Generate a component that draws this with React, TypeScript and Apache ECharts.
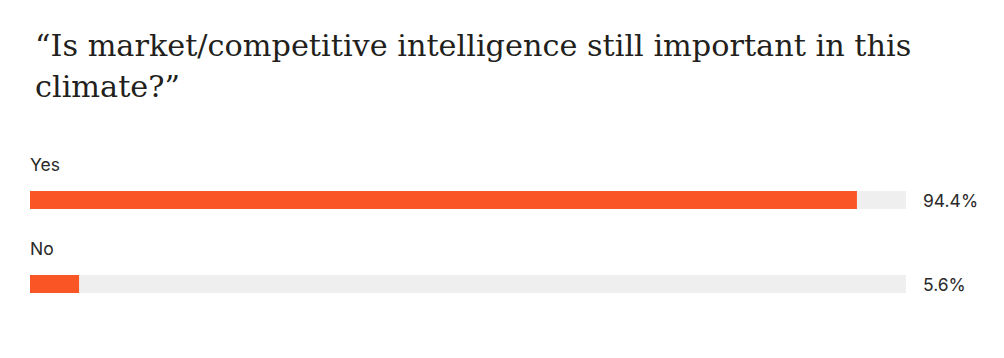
import React, { useEffect, useRef } from "react";
import * as echarts from "echarts";

const titleText = "\u201CIs market/competitive intelligence still important in this\nclimate?\u201D";
const categories = ["Yes", "No"];
const values = [94.4, 5.6];
const trackMax = [100, 100];

export default function App() {
  const ref = useRef<HTMLDivElement>(null);
  useEffect(() => {
    if (!ref.current) return;
    const chart = echarts.init(ref.current, undefined, { renderer: "svg" });
    chart.setOption({
      animation: false,
      title: {
        text: titleText,
        left: 22,
        top: 12,
        textStyle: {
          fontFamily: "DejaVu Serif",
          fontWeight: "normal",
          fontSize: 30.3,
          lineHeight: 41,
          color: "#231f1c",
        },
      },
      grid: { left: 22, width: 876, top: 150, height: 168 },
      xAxis: {
        type: "value",
        min: 0,
        max: 100,
        show: false,
      },
      yAxis: {
        type: "category",
        data: categories,
        inverse: true,
        show: false,
      },
      series: [
        {
          type: "bar",
          name: "track",
          data: trackMax,
          barWidth: 18,
          silent: true,
          itemStyle: { color: "#EFEFEF" },
          label: {
            show: true,
            position: "right",
            distance: 17,
            align: "left",
            verticalAlign: "middle",
            fontFamily: "Inter",
            fontSize: 17.5,
            color: "#2a2a2a",
            formatter: (p: any) => values[p.dataIndex].toFixed(1) + "%",
          },
          z: 1,
        },
        {
          type: "bar",
          name: "value",
          data: values,
          barWidth: 18,
          barGap: "-100%",
          itemStyle: { color: "#FA5525" },
          label: {
            show: true,
            position: [0, -27],
            align: "left",
            verticalAlign: "middle",
            fontFamily: "Inter",
            fontSize: 17.5,
            color: "#2a2a2a",
            formatter: (p: any) => categories[p.dataIndex],
          },
          z: 2,
        },
      ],
    });
    return () => chart.dispose();
  }, []);
  return <div ref={ref} style={{ width: 988, height: 342 }} />;
}
